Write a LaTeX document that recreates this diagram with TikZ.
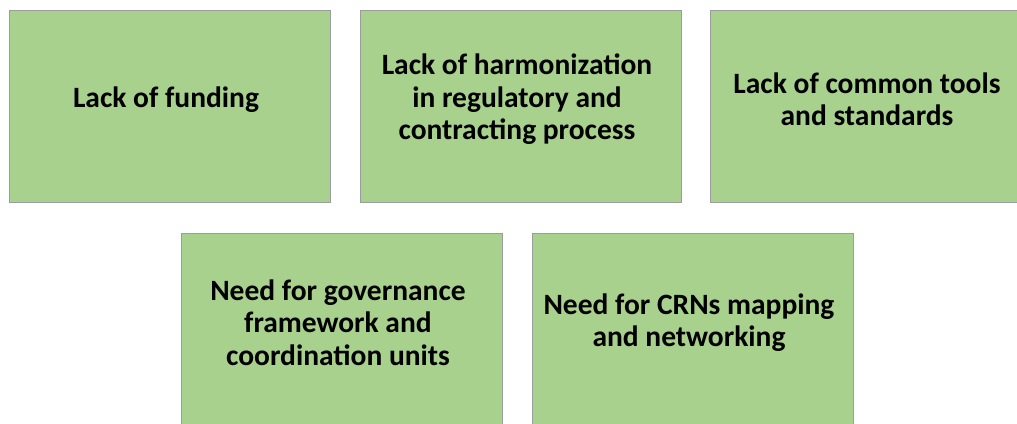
\documentclass[tikz,border=0pt]{standalone}
\usepackage{fontspec}
\setmainfont{Carlito}
\usetikzlibrary{calc}
\definecolor{boxfill}{HTML}{A9D18E}
\definecolor{boxedge}{HTML}{9C9C9C}
\begin{document}
\begin{tikzpicture}[x=1pt,y=1pt,
  issue/.style={rectangle, draw=boxedge, line width=1pt, fill=boxfill,
    minimum width=321pt, minimum height=192pt, inner sep=0pt, anchor=north west},
  issuetext/.style={align=center, inner sep=0pt, text=black,
    font=\bfseries\fontsize{29.5}{32.5}\selectfont}]
  \useasboundingbox (0,0) rectangle (1017,-423);
  % top row
  \node[issue] (b1) at (9,-10) {};
  \node[issue] (b2) at (360,-10) {};
  \node[issue] (b3) at (710,-10) {};
  % bottom row
  \node[issue] (b4) at (181,-233) {};
  \node[issue] (b5) at (532,-233) {};
  % captions, set slightly above and left of each box centre
  \node[issuetext] (t1) at ($(b1.center)+(-4,7)$) {Lack of funding};
  \node[issuetext] (t2) at ($(b2.center)+(-4,7)$) {Lack of harmonization\\in regulatory and\\contracting process};
  \node[issuetext] (t3) at ($(b3.center)+(-4,7)$) {Lack of common tools\\and standards};
  \node[issuetext] (t4) at ($(b4.center)+(-4,7)$) {Need for governance\\framework and\\coordination units};
  \node[issuetext] (t5) at ($(b5.center)+(-4,7)$) {Need for CRNs mapping\\and networking};
\end{tikzpicture}
\end{document}
